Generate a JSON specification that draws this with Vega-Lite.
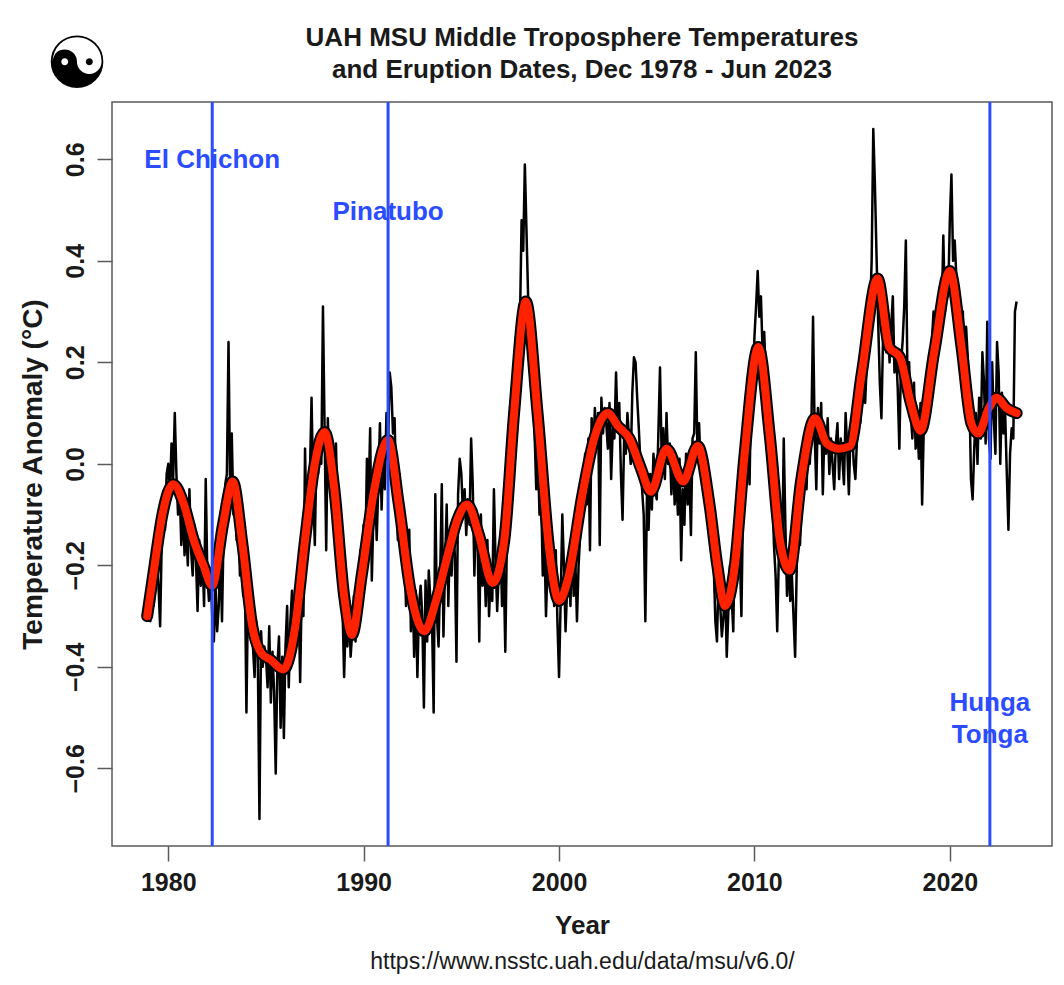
{
  "$schema": "https://vega.github.io/schema/vega-lite/v6.json",
  "width": 940,
  "height": 744,
  "autosize": {"type": "none"},
  "padding": {"left": 112, "top": 102, "right": 12, "bottom": 139},
  "background": "white",
  "config": {
    "font": "Liberation Sans",
    "view": {"stroke": "#5a5a5a", "strokeWidth": 1.5},
    "axis": {
      "grid": false,
      "domain": false,
      "tickColor": "#5a5a5a",
      "tickWidth": 1.5,
      "tickSize": 15,
      "labelFontSize": 25,
      "labelFontWeight": "bold",
      "labelColor": "#1a1a1a",
      "titleFontSize": 26,
      "titleFontWeight": "bold",
      "titleColor": "#1a1a1a"
    }
  },
  "title": {
    "text": ["UAH MSU Middle Troposphere Temperatures", "and Eruption Dates, Dec 1978 - Jun 2023"],
    "fontSize": 26,
    "fontWeight": "bold",
    "lineHeight": 32,
    "color": "#1a1a1a",
    "anchor": "middle",
    "frame": "group",
    "offset": -53
  },
  "datasets": {
    "monthly": [
      {"t":1978.917,"v":-0.30},
      {"t":1979.000,"v":-0.27},{"t":1979.083,"v":-0.31},{"t":1979.167,"v":-0.22},{"t":1979.250,"v":-0.28},{"t":1979.333,"v":-0.24},{"t":1979.417,"v":-0.19},{"t":1979.500,"v":-0.24},{"t":1979.583,"v":-0.32},{"t":1979.667,"v":-0.15},{"t":1979.750,"v":-0.10},{"t":1979.833,"v":-0.13},{"t":1979.917,"v":-0.02},
      {"t":1980.000,"v":0.00},{"t":1980.083,"v":-0.06},{"t":1980.167,"v":0.04},{"t":1980.250,"v":-0.03},{"t":1980.333,"v":0.10},{"t":1980.417,"v":-0.02},{"t":1980.500,"v":-0.10},{"t":1980.583,"v":-0.05},{"t":1980.667,"v":-0.16},{"t":1980.750,"v":-0.08},{"t":1980.833,"v":-0.18},{"t":1980.917,"v":-0.12},
      {"t":1981.000,"v":-0.20},{"t":1981.083,"v":-0.05},{"t":1981.167,"v":-0.17},{"t":1981.250,"v":-0.22},{"t":1981.333,"v":-0.12},{"t":1981.417,"v":-0.19},{"t":1981.500,"v":-0.29},{"t":1981.583,"v":-0.15},{"t":1981.667,"v":-0.24},{"t":1981.750,"v":-0.18},{"t":1981.833,"v":-0.28},{"t":1981.917,"v":-0.03},
      {"t":1982.000,"v":-0.22},{"t":1982.083,"v":-0.27},{"t":1982.167,"v":-0.21},{"t":1982.250,"v":-0.30},{"t":1982.333,"v":-0.35},{"t":1982.417,"v":-0.24},{"t":1982.500,"v":-0.33},{"t":1982.583,"v":-0.28},{"t":1982.667,"v":-0.17},{"t":1982.750,"v":-0.31},{"t":1982.833,"v":-0.13},{"t":1982.917,"v":-0.04},
      {"t":1983.000,"v":-0.02},{"t":1983.083,"v":0.24},{"t":1983.167,"v":-0.05},{"t":1983.250,"v":0.06},{"t":1983.333,"v":-0.10},{"t":1983.417,"v":-0.04},{"t":1983.500,"v":-0.15},{"t":1983.583,"v":-0.09},{"t":1983.667,"v":-0.22},{"t":1983.750,"v":-0.17},{"t":1983.833,"v":-0.26},{"t":1983.917,"v":-0.20},
      {"t":1984.000,"v":-0.49},{"t":1984.083,"v":-0.25},{"t":1984.167,"v":-0.33},{"t":1984.250,"v":-0.28},{"t":1984.333,"v":-0.36},{"t":1984.417,"v":-0.42},{"t":1984.500,"v":-0.31},{"t":1984.583,"v":-0.38},{"t":1984.667,"v":-0.70},{"t":1984.750,"v":-0.33},{"t":1984.833,"v":-0.40},{"t":1984.917,"v":-0.36},
      {"t":1985.000,"v":-0.38},{"t":1985.083,"v":-0.44},{"t":1985.167,"v":-0.32},{"t":1985.250,"v":-0.47},{"t":1985.333,"v":-0.37},{"t":1985.417,"v":-0.45},{"t":1985.500,"v":-0.61},{"t":1985.583,"v":-0.40},{"t":1985.667,"v":-0.34},{"t":1985.750,"v":-0.52},{"t":1985.833,"v":-0.38},{"t":1985.917,"v":-0.54},
      {"t":1986.000,"v":-0.36},{"t":1986.083,"v":-0.28},{"t":1986.167,"v":-0.44},{"t":1986.250,"v":-0.31},{"t":1986.333,"v":-0.25},{"t":1986.417,"v":-0.38},{"t":1986.500,"v":-0.29},{"t":1986.583,"v":-0.34},{"t":1986.667,"v":-0.26},{"t":1986.750,"v":-0.43},{"t":1986.833,"v":-0.24},{"t":1986.917,"v":-0.30},
      {"t":1987.000,"v":0.03},{"t":1987.083,"v":-0.14},{"t":1987.167,"v":-0.08},{"t":1987.250,"v":-0.02},{"t":1987.333,"v":0.13},{"t":1987.417,"v":-0.05},{"t":1987.500,"v":-0.16},{"t":1987.583,"v":0.02},{"t":1987.667,"v":-0.02},{"t":1987.750,"v":0.06},{"t":1987.833,"v":0.00},{"t":1987.917,"v":0.31},
      {"t":1988.000,"v":0.07},{"t":1988.083,"v":-0.17},{"t":1988.167,"v":0.09},{"t":1988.250,"v":-0.04},{"t":1988.333,"v":0.03},{"t":1988.417,"v":-0.10},{"t":1988.500,"v":-0.06},{"t":1988.583,"v":0.04},{"t":1988.667,"v":-0.12},{"t":1988.750,"v":-0.24},{"t":1988.833,"v":-0.18},{"t":1988.917,"v":-0.28},
      {"t":1989.000,"v":-0.42},{"t":1989.083,"v":-0.30},{"t":1989.167,"v":-0.36},{"t":1989.250,"v":-0.27},{"t":1989.333,"v":-0.38},{"t":1989.417,"v":-0.33},{"t":1989.500,"v":-0.26},{"t":1989.583,"v":-0.35},{"t":1989.667,"v":-0.22},{"t":1989.750,"v":-0.28},{"t":1989.833,"v":-0.17},{"t":1989.917,"v":-0.24},
      {"t":1990.000,"v":-0.12},{"t":1990.083,"v":-0.19},{"t":1990.167,"v":0.01},{"t":1990.250,"v":-0.07},{"t":1990.333,"v":0.07},{"t":1990.417,"v":-0.23},{"t":1990.500,"v":-0.10},{"t":1990.583,"v":-0.03},{"t":1990.667,"v":-0.15},{"t":1990.750,"v":-0.04},{"t":1990.833,"v":0.08},{"t":1990.917,"v":-0.09},
      {"t":1991.000,"v":0.02},{"t":1991.083,"v":-0.05},{"t":1991.167,"v":0.10},{"t":1991.250,"v":0.03},{"t":1991.333,"v":0.18},{"t":1991.417,"v":0.15},{"t":1991.500,"v":0.06},{"t":1991.583,"v":0.09},{"t":1991.667,"v":-0.05},{"t":1991.750,"v":-0.15},{"t":1991.833,"v":-0.02},{"t":1991.917,"v":-0.16},
      {"t":1992.000,"v":-0.11},{"t":1992.083,"v":-0.16},{"t":1992.167,"v":-0.28},{"t":1992.250,"v":-0.20},{"t":1992.333,"v":-0.13},{"t":1992.417,"v":-0.33},{"t":1992.500,"v":-0.22},{"t":1992.583,"v":-0.38},{"t":1992.667,"v":-0.25},{"t":1992.750,"v":-0.42},{"t":1992.833,"v":-0.28},{"t":1992.917,"v":-0.24},
      {"t":1993.000,"v":-0.30},{"t":1993.083,"v":-0.48},{"t":1993.167,"v":-0.23},{"t":1993.250,"v":-0.35},{"t":1993.333,"v":-0.21},{"t":1993.417,"v":-0.27},{"t":1993.500,"v":-0.31},{"t":1993.583,"v":-0.49},{"t":1993.667,"v":-0.06},{"t":1993.750,"v":-0.30},{"t":1993.833,"v":-0.36},{"t":1993.917,"v":-0.22},
      {"t":1994.000,"v":-0.04},{"t":1994.083,"v":-0.34},{"t":1994.167,"v":-0.20},{"t":1994.250,"v":-0.08},{"t":1994.333,"v":-0.28},{"t":1994.417,"v":-0.14},{"t":1994.500,"v":-0.22},{"t":1994.583,"v":-0.12},{"t":1994.667,"v":-0.18},{"t":1994.750,"v":-0.39},{"t":1994.833,"v":-0.06},{"t":1994.917,"v":0.01},
      {"t":1995.000,"v":-0.02},{"t":1995.083,"v":-0.10},{"t":1995.167,"v":-0.05},{"t":1995.250,"v":-0.14},{"t":1995.333,"v":-0.07},{"t":1995.417,"v":-0.12},{"t":1995.500,"v":0.05},{"t":1995.583,"v":-0.04},{"t":1995.667,"v":-0.22},{"t":1995.750,"v":-0.09},{"t":1995.833,"v":-0.15},{"t":1995.917,"v":-0.35},
      {"t":1996.000,"v":-0.10},{"t":1996.083,"v":-0.24},{"t":1996.167,"v":-0.18},{"t":1996.250,"v":-0.28},{"t":1996.333,"v":-0.15},{"t":1996.417,"v":-0.30},{"t":1996.500,"v":-0.22},{"t":1996.583,"v":-0.27},{"t":1996.667,"v":-0.05},{"t":1996.750,"v":-0.19},{"t":1996.833,"v":-0.29},{"t":1996.917,"v":-0.21},
      {"t":1997.000,"v":-0.15},{"t":1997.083,"v":-0.28},{"t":1997.167,"v":-0.20},{"t":1997.250,"v":-0.37},{"t":1997.333,"v":-0.14},{"t":1997.417,"v":-0.05},{"t":1997.500,"v":-0.08},{"t":1997.583,"v":0.02},{"t":1997.667,"v":0.00},{"t":1997.750,"v":0.08},{"t":1997.833,"v":0.05},{"t":1997.917,"v":0.20},
      {"t":1998.000,"v":0.28},{"t":1998.083,"v":0.48},{"t":1998.167,"v":0.42},{"t":1998.250,"v":0.59},{"t":1998.333,"v":0.46},{"t":1998.417,"v":0.33},{"t":1998.500,"v":0.30},{"t":1998.583,"v":0.18},{"t":1998.667,"v":0.22},{"t":1998.750,"v":0.06},{"t":1998.833,"v":-0.05},{"t":1998.917,"v":0.02},
      {"t":1999.000,"v":-0.10},{"t":1999.083,"v":-0.06},{"t":1999.167,"v":-0.22},{"t":1999.250,"v":-0.15},{"t":1999.333,"v":-0.30},{"t":1999.417,"v":-0.19},{"t":1999.500,"v":-0.12},{"t":1999.583,"v":-0.25},{"t":1999.667,"v":-0.20},{"t":1999.750,"v":-0.28},{"t":1999.833,"v":-0.17},{"t":1999.917,"v":-0.31},
      {"t":2000.000,"v":-0.42},{"t":2000.083,"v":-0.27},{"t":2000.167,"v":-0.10},{"t":2000.250,"v":-0.20},{"t":2000.333,"v":-0.33},{"t":2000.417,"v":-0.24},{"t":2000.500,"v":-0.18},{"t":2000.583,"v":-0.28},{"t":2000.667,"v":-0.14},{"t":2000.750,"v":-0.26},{"t":2000.833,"v":-0.19},{"t":2000.917,"v":-0.31},
      {"t":2001.000,"v":-0.20},{"t":2001.083,"v":-0.14},{"t":2001.167,"v":-0.03},{"t":2001.250,"v":-0.10},{"t":2001.333,"v":0.02},{"t":2001.417,"v":-0.08},{"t":2001.500,"v":0.05},{"t":2001.583,"v":-0.17},{"t":2001.667,"v":0.09},{"t":2001.750,"v":0.02},{"t":2001.833,"v":0.11},{"t":2001.917,"v":0.04},
      {"t":2002.000,"v":0.10},{"t":2002.083,"v":-0.16},{"t":2002.167,"v":0.13},{"t":2002.250,"v":0.06},{"t":2002.333,"v":0.11},{"t":2002.417,"v":0.08},{"t":2002.500,"v":0.03},{"t":2002.583,"v":0.12},{"t":2002.667,"v":-0.03},{"t":2002.750,"v":0.07},{"t":2002.833,"v":0.05},{"t":2002.917,"v":0.18},
      {"t":2003.000,"v":0.07},{"t":2003.083,"v":0.12},{"t":2003.167,"v":-0.02},{"t":2003.250,"v":-0.11},{"t":2003.333,"v":0.05},{"t":2003.417,"v":0.02},{"t":2003.500,"v":0.10},{"t":2003.583,"v":0.05},{"t":2003.667,"v":0.00},{"t":2003.750,"v":0.14},{"t":2003.833,"v":0.21},{"t":2003.917,"v":0.20},
      {"t":2004.000,"v":0.13},{"t":2004.083,"v":0.07},{"t":2004.167,"v":0.00},{"t":2004.250,"v":-0.05},{"t":2004.333,"v":-0.10},{"t":2004.417,"v":-0.31},{"t":2004.500,"v":-0.06},{"t":2004.583,"v":-0.13},{"t":2004.667,"v":-0.02},{"t":2004.750,"v":-0.09},{"t":2004.833,"v":0.02},{"t":2004.917,"v":-0.05},
      {"t":2005.000,"v":-0.07},{"t":2005.083,"v":0.06},{"t":2005.167,"v":0.19},{"t":2005.250,"v":0.02},{"t":2005.333,"v":0.07},{"t":2005.417,"v":-0.03},{"t":2005.500,"v":0.10},{"t":2005.583,"v":0.00},{"t":2005.667,"v":0.04},{"t":2005.750,"v":-0.06},{"t":2005.833,"v":0.02},{"t":2005.917,"v":-0.08},
      {"t":2006.000,"v":-0.02},{"t":2006.083,"v":-0.10},{"t":2006.167,"v":0.01},{"t":2006.250,"v":-0.19},{"t":2006.333,"v":-0.05},{"t":2006.417,"v":-0.12},{"t":2006.500,"v":0.02},{"t":2006.583,"v":-0.08},{"t":2006.667,"v":-0.01},{"t":2006.750,"v":-0.14},{"t":2006.833,"v":0.05},{"t":2006.917,"v":0.06},
      {"t":2007.000,"v":0.22},{"t":2007.083,"v":0.02},{"t":2007.167,"v":0.08},{"t":2007.250,"v":-0.01},{"t":2007.333,"v":0.03},{"t":2007.417,"v":-0.05},{"t":2007.500,"v":-0.02},{"t":2007.583,"v":-0.10},{"t":2007.667,"v":-0.06},{"t":2007.750,"v":-0.15},{"t":2007.833,"v":-0.12},{"t":2007.917,"v":-0.20},
      {"t":2008.000,"v":-0.31},{"t":2008.083,"v":-0.35},{"t":2008.167,"v":-0.22},{"t":2008.250,"v":-0.28},{"t":2008.333,"v":-0.34},{"t":2008.417,"v":-0.30},{"t":2008.500,"v":-0.24},{"t":2008.583,"v":-0.38},{"t":2008.667,"v":-0.29},{"t":2008.750,"v":-0.20},{"t":2008.833,"v":-0.26},{"t":2008.917,"v":-0.33},
      {"t":2009.000,"v":-0.13},{"t":2009.083,"v":-0.22},{"t":2009.167,"v":-0.05},{"t":2009.250,"v":-0.17},{"t":2009.333,"v":-0.30},{"t":2009.417,"v":-0.08},{"t":2009.500,"v":0.02},{"t":2009.583,"v":-0.01},{"t":2009.667,"v":0.07},{"t":2009.750,"v":-0.04},{"t":2009.833,"v":0.15},{"t":2009.917,"v":0.12},
      {"t":2010.000,"v":0.25},{"t":2010.083,"v":0.31},{"t":2010.167,"v":0.38},{"t":2010.250,"v":0.29},{"t":2010.333,"v":0.33},{"t":2010.417,"v":0.22},{"t":2010.500,"v":0.26},{"t":2010.583,"v":0.17},{"t":2010.667,"v":0.14},{"t":2010.750,"v":0.01},{"t":2010.833,"v":0.06},{"t":2010.917,"v":-0.05},
      {"t":2011.000,"v":-0.16},{"t":2011.083,"v":-0.22},{"t":2011.167,"v":-0.33},{"t":2011.250,"v":-0.18},{"t":2011.333,"v":-0.10},{"t":2011.417,"v":-0.20},{"t":2011.500,"v":0.05},{"t":2011.583,"v":-0.12},{"t":2011.667,"v":-0.26},{"t":2011.750,"v":-0.19},{"t":2011.833,"v":-0.27},{"t":2011.917,"v":-0.22},
      {"t":2012.000,"v":-0.30},{"t":2012.083,"v":-0.38},{"t":2012.167,"v":-0.20},{"t":2012.250,"v":-0.12},{"t":2012.333,"v":-0.16},{"t":2012.417,"v":-0.04},{"t":2012.500,"v":-0.07},{"t":2012.583,"v":0.02},{"t":2012.667,"v":-0.05},{"t":2012.750,"v":0.05},{"t":2012.833,"v":0.00},{"t":2012.917,"v":0.08},
      {"t":2013.000,"v":0.29},{"t":2013.083,"v":0.06},{"t":2013.167,"v":-0.05},{"t":2013.250,"v":0.11},{"t":2013.333,"v":0.04},{"t":2013.417,"v":0.12},{"t":2013.500,"v":-0.06},{"t":2013.583,"v":0.07},{"t":2013.667,"v":0.02},{"t":2013.750,"v":0.09},{"t":2013.833,"v":-0.02},{"t":2013.917,"v":0.05},
      {"t":2014.000,"v":0.00},{"t":2014.083,"v":-0.05},{"t":2014.167,"v":0.04},{"t":2014.250,"v":0.08},{"t":2014.333,"v":-0.03},{"t":2014.417,"v":0.05},{"t":2014.500,"v":0.01},{"t":2014.583,"v":-0.04},{"t":2014.667,"v":0.10},{"t":2014.750,"v":0.03},{"t":2014.833,"v":-0.06},{"t":2014.917,"v":0.06},
      {"t":2015.000,"v":0.07},{"t":2015.083,"v":0.00},{"t":2015.167,"v":-0.03},{"t":2015.250,"v":0.05},{"t":2015.333,"v":0.11},{"t":2015.417,"v":0.08},{"t":2015.500,"v":0.13},{"t":2015.583,"v":0.16},{"t":2015.667,"v":0.12},{"t":2015.750,"v":0.20},{"t":2015.833,"v":0.24},{"t":2015.917,"v":0.30},
      {"t":2016.000,"v":0.40},{"t":2016.083,"v":0.66},{"t":2016.167,"v":0.55},{"t":2016.250,"v":0.41},{"t":2016.333,"v":0.28},{"t":2016.417,"v":0.16},{"t":2016.500,"v":0.09},{"t":2016.583,"v":0.25},{"t":2016.667,"v":0.31},{"t":2016.750,"v":0.22},{"t":2016.833,"v":0.28},{"t":2016.917,"v":0.20},
      {"t":2017.000,"v":0.27},{"t":2017.083,"v":0.33},{"t":2017.167,"v":0.18},{"t":2017.250,"v":0.22},{"t":2017.333,"v":0.15},{"t":2017.417,"v":0.03},{"t":2017.500,"v":0.20},{"t":2017.583,"v":0.24},{"t":2017.667,"v":0.31},{"t":2017.750,"v":0.44},{"t":2017.833,"v":0.17},{"t":2017.917,"v":0.20},
      {"t":2018.000,"v":0.10},{"t":2018.083,"v":0.05},{"t":2018.167,"v":0.16},{"t":2018.250,"v":0.03},{"t":2018.333,"v":0.08},{"t":2018.417,"v":0.01},{"t":2018.500,"v":0.12},{"t":2018.583,"v":-0.08},{"t":2018.667,"v":0.07},{"t":2018.750,"v":0.12},{"t":2018.833,"v":0.09},{"t":2018.917,"v":0.15},
      {"t":2019.000,"v":0.18},{"t":2019.083,"v":0.24},{"t":2019.167,"v":0.30},{"t":2019.250,"v":0.20},{"t":2019.333,"v":0.26},{"t":2019.417,"v":0.22},{"t":2019.500,"v":0.34},{"t":2019.583,"v":0.28},{"t":2019.667,"v":0.45},{"t":2019.750,"v":0.30},{"t":2019.833,"v":0.36},{"t":2019.917,"v":0.33},
      {"t":2020.000,"v":0.48},{"t":2020.083,"v":0.57},{"t":2020.167,"v":0.40},{"t":2020.250,"v":0.44},{"t":2020.333,"v":0.37},{"t":2020.417,"v":0.29},{"t":2020.500,"v":0.31},{"t":2020.583,"v":0.25},{"t":2020.667,"v":0.30},{"t":2020.750,"v":0.18},{"t":2020.833,"v":0.27},{"t":2020.917,"v":0.21},
      {"t":2021.000,"v":0.14},{"t":2021.083,"v":-0.03},{"t":2021.167,"v":-0.07},{"t":2021.250,"v":0.03},{"t":2021.333,"v":0.10},{"t":2021.417,"v":0.00},{"t":2021.500,"v":0.13},{"t":2021.583,"v":0.05},{"t":2021.667,"v":0.22},{"t":2021.750,"v":0.16},{"t":2021.833,"v":0.04},{"t":2021.917,"v":0.28},
      {"t":2022.000,"v":0.05},{"t":2022.083,"v":0.01},{"t":2022.167,"v":0.20},{"t":2022.250,"v":0.09},{"t":2022.333,"v":0.02},{"t":2022.417,"v":0.24},{"t":2022.500,"v":0.18},{"t":2022.583,"v":0.00},{"t":2022.667,"v":0.14},{"t":2022.750,"v":0.06},{"t":2022.833,"v":0.10},{"t":2022.917,"v":-0.02},
      {"t":2023.000,"v":-0.13},{"t":2023.083,"v":0.02},{"t":2023.167,"v":0.07},{"t":2023.250,"v":0.05},{"t":2023.333,"v":0.30},{"t":2023.417,"v":0.32}
    ],
    "smooth": [
      {"t":1978.92,"v":-0.30},{"t":1979.3,"v":-0.20},{"t":1979.7,"v":-0.10},{"t":1980.25,"v":-0.04},{"t":1980.8,"v":-0.08},
      {"t":1981.3,"v":-0.15},{"t":1981.8,"v":-0.20},{"t":1982.25,"v":-0.24},{"t":1982.8,"v":-0.12},{"t":1983.3,"v":-0.035},
      {"t":1983.8,"v":-0.16},{"t":1984.3,"v":-0.32},{"t":1984.8,"v":-0.375},{"t":1985.2,"v":-0.385},{"t":1985.9,"v":-0.405},
      {"t":1986.5,"v":-0.32},{"t":1987.0,"v":-0.15},{"t":1987.5,"v":0.00},{"t":1988.0,"v":0.063},{"t":1988.5,"v":-0.05},
      {"t":1989.0,"v":-0.26},{"t":1989.4,"v":-0.337},{"t":1989.9,"v":-0.22},{"t":1990.5,"v":-0.06},{"t":1991.25,"v":0.047},
      {"t":1991.8,"v":-0.08},{"t":1992.4,"v":-0.25},{"t":1993.1,"v":-0.33},{"t":1993.7,"v":-0.27},{"t":1994.3,"v":-0.18},
      {"t":1994.8,"v":-0.11},{"t":1995.3,"v":-0.08},{"t":1995.9,"v":-0.14},{"t":1996.6,"v":-0.235},{"t":1997.2,"v":-0.15},
      {"t":1997.7,"v":0.10},{"t":1998.3,"v":0.32},{"t":1998.9,"v":0.10},{"t":1999.5,"v":-0.17},{"t":2000.0,"v":-0.27},
      {"t":2000.5,"v":-0.22},{"t":2001.2,"v":-0.06},{"t":2001.8,"v":0.05},{"t":2002.5,"v":0.10},{"t":2003.0,"v":0.075},
      {"t":2003.6,"v":0.05},{"t":2004.2,"v":-0.01},{"t":2004.7,"v":-0.055},{"t":2005.5,"v":0.03},{"t":2006.35,"v":-0.035},
      {"t":2007.1,"v":0.035},{"t":2007.7,"v":-0.08},{"t":2008.1,"v":-0.20},{"t":2008.5,"v":-0.28},{"t":2009.0,"v":-0.20},
      {"t":2009.5,"v":0.02},{"t":2010.2,"v":0.23},{"t":2010.8,"v":0.05},{"t":2011.3,"v":-0.15},{"t":2011.8,"v":-0.21},
      {"t":2012.4,"v":-0.03},{"t":2013.1,"v":0.09},{"t":2013.7,"v":0.04},{"t":2014.3,"v":0.03},{"t":2014.9,"v":0.035},
      {"t":2015.5,"v":0.18},{"t":2016.3,"v":0.365},{"t":2016.9,"v":0.23},{"t":2017.45,"v":0.21},{"t":2018.0,"v":0.12},
      {"t":2018.5,"v":0.065},{"t":2019.2,"v":0.22},{"t":2020.0,"v":0.38},{"t":2020.6,"v":0.23},{"t":2021.1,"v":0.08},
      {"t":2021.45,"v":0.06},{"t":2022.0,"v":0.11},{"t":2022.4,"v":0.13},{"t":2022.9,"v":0.11},{"t":2023.42,"v":0.10}
    ],
    "eruptions": [
      {"name": "El Chichon", "year": 1982.25},
      {"name": "Pinatubo", "year": 1991.25},
      {"name": "Hunga Tonga", "year": 2022.05}
    ]
  },
  "layer": [
    {
      "data": {"name": "monthly"},
      "mark": {"type": "line", "color": "black", "strokeWidth": 2.5, "strokeJoin": "round"},
      "encoding": {
        "x": {
          "field": "t", "type": "quantitative",
          "scale": {"domain": [1977.12, 2025.23], "nice": false, "zero": false},
          "axis": {"values": [1980, 1990, 2000, 2010, 2020], "format": "d", "labelFlush": false, "labelPadding": 9, "title": "Year", "titlePadding": 17}
        },
        "y": {
          "field": "v", "type": "quantitative",
          "scale": {"domain": [-0.753, 0.713], "nice": false, "zero": false},
          "axis": {"values": [-0.6, -0.4, -0.2, 0, 0.2, 0.4, 0.6], "format": ".1f", "labelAngle": -90, "labelAlign": "center", "labelBaseline": "alphabetic", "labelPadding": 14, "labelFlush": false, "title": "Temperature Anomaly (°C)", "titleFontSize": 28, "titlePadding": 16}
        }
      }
    },
    {
      "data": {"name": "smooth"},
      "mark": {"type": "line", "color": "black", "strokeWidth": 12, "interpolate": "monotone", "strokeCap": "round"},
      "encoding": {
        "x": {"field": "t", "type": "quantitative", "scale": {"domain": [1977.12, 2025.23], "nice": false, "zero": false}},
        "y": {"field": "v", "type": "quantitative", "scale": {"domain": [-0.753, 0.713], "nice": false, "zero": false}}
      }
    },
    {
      "data": {"name": "smooth"},
      "mark": {"type": "line", "color": "#ff2200", "strokeWidth": 8, "interpolate": "monotone", "strokeCap": "round"},
      "encoding": {
        "x": {"field": "t", "type": "quantitative", "scale": {"domain": [1977.12, 2025.23], "nice": false, "zero": false}},
        "y": {"field": "v", "type": "quantitative", "scale": {"domain": [-0.753, 0.713], "nice": false, "zero": false}}
      }
    },
    {
      "data": {"name": "eruptions"},
      "mark": {"type": "rule", "color": "#2b4cff", "strokeWidth": 3},
      "encoding": {
        "x": {"field": "year", "type": "quantitative", "scale": {"domain": [1977.12, 2025.23], "nice": false, "zero": false}}
      }
    },
    {
      "data": {"name": "eruptions"},
      "transform": [{"filter": "datum.name === 'El Chichon'"}],
      "mark": {"type": "text", "color": "#2b4cff", "fontSize": 26, "fontWeight": "bold", "align": "center", "baseline": "middle"},
      "encoding": {
        "x": {"field": "year", "type": "quantitative", "scale": {"domain": [1977.12, 2025.23], "nice": false, "zero": false}},
        "y": {"datum": 0.599, "type": "quantitative", "scale": {"domain": [-0.753, 0.713], "nice": false, "zero": false}},
        "text": {"field": "name"}
      }
    },
    {
      "data": {"name": "eruptions"},
      "transform": [{"filter": "datum.name === 'Pinatubo'"}],
      "mark": {"type": "text", "color": "#2b4cff", "fontSize": 26, "fontWeight": "bold", "align": "center", "baseline": "middle"},
      "encoding": {
        "x": {"field": "year", "type": "quantitative", "scale": {"domain": [1977.12, 2025.23], "nice": false, "zero": false}},
        "y": {"datum": 0.497, "type": "quantitative", "scale": {"domain": [-0.753, 0.713], "nice": false, "zero": false}},
        "text": {"field": "name"}
      }
    },
    {
      "data": {"name": "eruptions"},
      "transform": [{"filter": "datum.name === 'Hunga Tonga'"}],
      "mark": {"type": "text", "color": "#2b4cff", "fontSize": 26, "fontWeight": "bold", "align": "center", "baseline": "middle", "lineBreak": " ", "lineHeight": 32},
      "encoding": {
        "x": {"field": "year", "type": "quantitative", "scale": {"domain": [1977.12, 2025.23], "nice": false, "zero": false}},
        "y": {"datum": -0.472, "type": "quantitative", "scale": {"domain": [-0.753, 0.713], "nice": false, "zero": false}},
        "text": {"field": "name"}
      }
    },
    {
      "data": {"values": [{"source": "https://www.nsstc.uah.edu/data/msu/v6.0/"}]},
      "mark": {"type": "text", "color": "#1a1a1a", "fontSize": 23, "align": "center", "baseline": "middle"},
      "encoding": {
        "x": {"datum": 2001.2, "type": "quantitative", "scale": {"domain": [1977.12, 2025.23], "nice": false, "zero": false}},
        "y": {"datum": -0.981, "type": "quantitative", "scale": {"domain": [-0.753, 0.713], "nice": false, "zero": false}},
        "text": {"field": "source"}
      }
    },
    {
      "data": {"values": [{"glyph": "☯"}]},
      "mark": {"type": "text", "color": "black", "font": "DejaVu Sans", "fontSize": 72, "align": "center", "baseline": "middle"},
      "encoding": {
        "x": {"datum": 1975.33, "type": "quantitative", "scale": {"domain": [1977.12, 2025.23], "nice": false, "zero": false}},
        "y": {"datum": 0.784, "type": "quantitative", "scale": {"domain": [-0.753, 0.713], "nice": false, "zero": false}},
        "text": {"field": "glyph"}
      }
    }
  ]
}
